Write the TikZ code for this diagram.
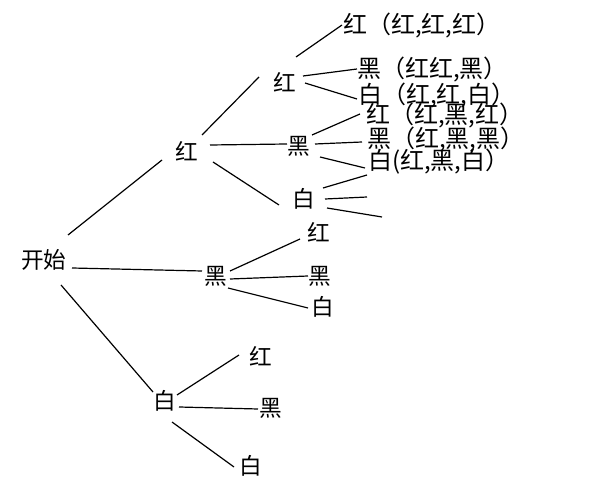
\documentclass[tikz,border=0pt]{standalone}
\usepackage{fontspec}
\newfontfamily\cjk{Noto Sans CJK SC}
\begin{document}
\begin{tikzpicture}[x=0.75pt,y=-0.75pt,
  lbl/.style={inner sep=0pt,outer sep=0pt,font=\cjk\fontsize{17}{19}\selectfont},
  leaf/.style={inner sep=0pt,outer sep=0pt,anchor=west,font=\cjk\fontsize{18}{20}\selectfont},
  edge/.style={draw=black,line width=0.9pt}]
\useasboundingbox (0,0) rectangle (600,491);
% nodes
\node[lbl] (s) at (44,260) {开始};
\node[lbl] (r) at (187,151) {红};
\node[lbl] (k) at (216,276) {黑};
\node[lbl] (w) at (165,401) {白};
\node[lbl] (rr) at (285,82) {红};
\node[lbl] (rk) at (299,146) {黑};
\node[lbl] (rw) at (304,199) {白};
\node[lbl] (kr) at (319,232) {红};
\node[lbl] (kk) at (320,276) {黑};
\node[lbl] (kw) at (323,307) {白};
\node[lbl] (wr) at (261,356) {红};
\node[lbl] (wk) at (271,408) {黑};
\node[lbl] (ww) at (251,466) {白};
\node[leaf] (rrr) at (343,26) {红（红,红,红）};
\node[leaf] (rrk) at (357,70) {黑（红红,黑）};
\node[leaf] (rrw) at (358,96) {白（红,红,白）};
\node[leaf] (rkr) at (366,116) {红（红,黑,红）};
\node[leaf] (rkk) at (367,140) {黑（红,黑,黑）};
\node[leaf] (rkw) at (368,162) {白(红,黑,白）};
\coordinate (e1) at (367,175);
\coordinate (e2) at (367,197);
\coordinate (e3) at (382,217);
% connectors
\path[edge] ([shift={(24,-25)}]s.center) -- ([shift={(-25,9)}]r.center);
\path[edge] ([shift={(28,8)}]s.center) -- ([shift={(-14,-5)}]k.center);
\path[edge] ([shift={(17,25)}]s.center) -- ([shift={(-12,-9)}]w.center);
\path[edge] ([shift={(15,-16)}]r.center) -- ([shift={(-26,-5)}]rr.center);
\path[edge] ([shift={(23,-6)}]r.center) -- ([shift={(-12,-2)}]rk.center);
\path[edge] ([shift={(26,11)}]r.center) -- ([shift={(-25,6)}]rw.center);
\path[edge] ([shift={(11,-25)}]rr.center) -- ([shift={(-1,-1)}]rrr.west);
\path[edge] ([shift={(18,-6)}]rr.center) -- ([shift={(0,-1)}]rrk.west);
\path[edge] ([shift={(20,1)}]rr.center) -- ([shift={(-1,3)}]rrw.west);
\path[edge] ([shift={(13,-11)}]rk.center) -- ([shift={(-6,-2)}]rkr.west);
\path[edge] ([shift={(16,-2)}]rk.center) -- ([shift={(-5,2)}]rkk.west);
\path[edge] ([shift={(21,11)}]rk.center) -- ([shift={(-3,6)}]rkw.west);
\path[edge] ([shift={(19,-11)}]rw.center) -- (e1);
\path[edge] ([shift={(21,0)}]rw.center) -- (e2);
\path[edge] ([shift={(23,9)}]rw.center) -- (e3);
\path[edge] ([shift={(14,-5)}]k.center) -- ([shift={(-19,7)}]kr.center);
\path[edge] ([shift={(14,3)}]k.center) -- ([shift={(-12,0)}]kk.center);
\path[edge] ([shift={(12,12)}]k.center) -- ([shift={(-15,1)}]kw.center);
\path[edge] ([shift={(12,-6)}]w.center) -- ([shift={(-22,-1)}]wr.center);
\path[edge] ([shift={(14,6)}]w.center) -- ([shift={(-13,1)}]wk.center);
\path[edge] ([shift={(7,21)}]w.center) -- ([shift={(-17,1)}]ww.center);
\end{tikzpicture}
\end{document}
